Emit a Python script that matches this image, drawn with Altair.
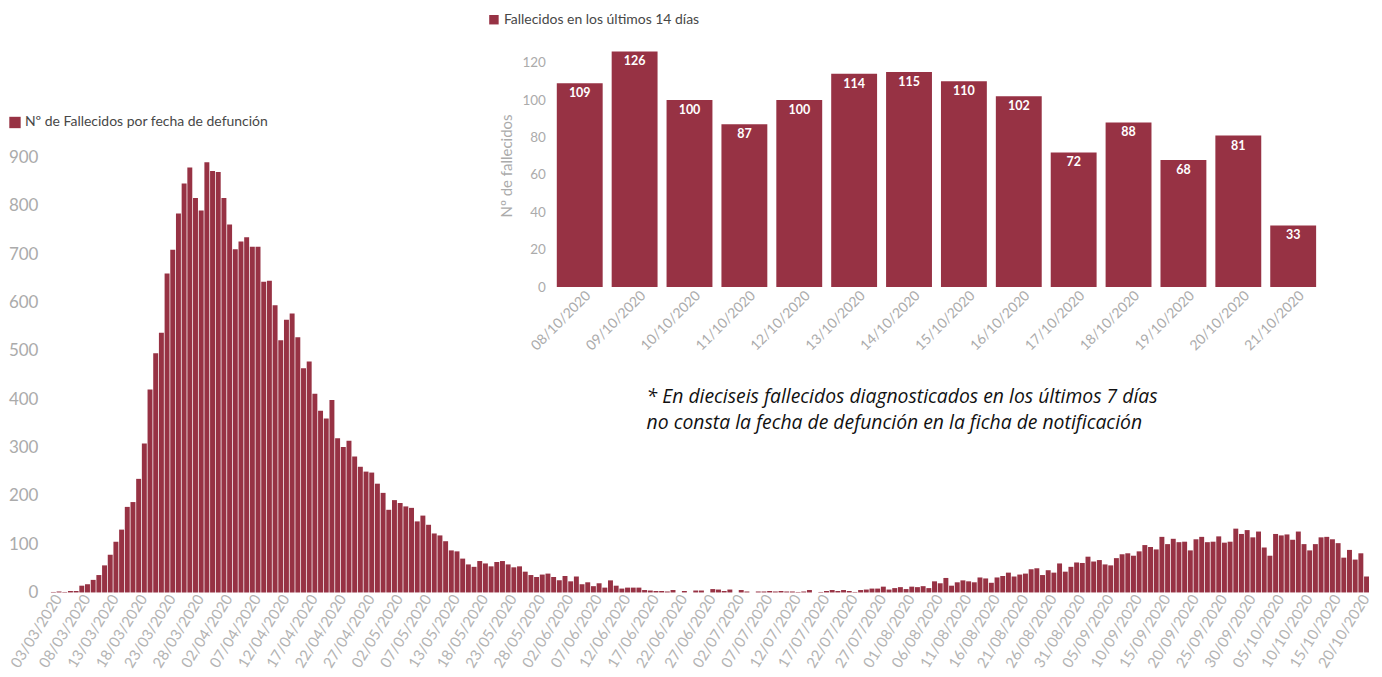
import altair as alt
import pandas as pd

# ---------------- data ----------------
all_days = pd.date_range("2020-03-03", "2020-10-21", freq="D").strftime("%d/%m/%Y").tolist()
missing_day = "10/05/2020"
dates = [d for d in all_days if d != missing_day]

deaths_until_07_10 = [
    1, 2, 1, 3, 3, 14, 17, 26, 36, 56,
    78, 105, 130, 177, 187, 235, 308, 420, 495, 537,
    660, 709, 784, 846, 879, 816, 790, 890, 872, 870,
    816, 761, 710, 726, 735, 715, 715, 643, 645, 594,
    522, 564, 577, 528, 464, 478, 411, 376, 360, 398,
    319, 301, 314, 281, 260, 250, 248, 225, 206, 171,
    191, 185, 178, 175, 147, 159, 140, 122, 118, 106,
    87, 85, 70, 58, 53, 65, 60, 54, 63, 65,
    58, 52, 54, 43, 36, 32, 37, 39, 32, 25,
    34, 23, 33, 17, 21, 13, 19, 10, 25, 14,
    8, 10, 10, 10, 5, 4, 3, 3, 2, 5,
    0, 3, 0, 4, 4, 0, 7, 6, 3, 6,
    0, 5, 2, 0, 2, 2, 3, 2, 3, 2,
    2, 1, 2, 5, 0, 1, 3, 5, 3, 5,
    3, 1, 5, 6, 8, 8, 12, 6, 9, 11,
    7, 12, 11, 13, 9, 23, 19, 30, 14, 21,
    25, 23, 21, 31, 29, 20, 31, 34, 41, 33,
    37, 39, 48, 50, 36, 46, 41, 60, 43, 53,
    62, 61, 74, 64, 67, 58, 56, 71, 79, 81,
    76, 85, 98, 94, 89, 115, 100, 111, 104, 105,
    87, 110, 115, 104, 105, 116, 103, 105, 132, 121,
    129, 114, 126, 93, 76, 121, 118, 120,
]

last14_dates = [
    "08/10/2020", "09/10/2020", "10/10/2020", "11/10/2020", "12/10/2020",
    "13/10/2020", "14/10/2020", "15/10/2020", "16/10/2020", "17/10/2020",
    "18/10/2020", "19/10/2020", "20/10/2020", "21/10/2020",
]
last14_values = [109, 126, 100, 87, 100, 114, 115, 110, 102, 72, 88, 68, 81, 33]

main_ticks_y = [0, 100, 200, 300, 400, 500, 600, 700, 800, 900]
inset_ticks_y = [0, 20, 40, 60, 80, 100, 120]

main_series = "Nº de Fallecidos por fecha de defunción"
inset_series = "Fallecidos en los últimos 14 días"
note_lines = [
    "* En dieciseis fallecidos diagnosticados en los últimos 7 días",
    "no consta la fecha de defunción en la ficha de notificación",
]

deaths = deaths_until_07_10 + last14_values

main_df = pd.DataFrame({"fecha": dates, "fallecidos": deaths, "serie": main_series})
inset_df = pd.DataFrame({"fecha": last14_dates, "fallecidos": last14_values, "serie": inset_series})

# ---------------- layout ----------------
W = 1321
H = 585
MAROON = "#973244"
GRAY = "#ababab"
FONT = "Lato"

main_x_range = [0, W]
main_y_range = [H, H - 436]
inset_x_range = [502.6, 1272.4]
inset_y_range = [279, 35.25]

main_bars = alt.Chart(main_df).mark_bar(opacity=1).encode(
    x=alt.X(
        "fecha:N",
        sort=None,
        scale=alt.Scale(range=main_x_range, paddingInner=0.13, paddingOuter=0),
        axis=alt.Axis(
            orient="bottom", title=None, values=dates[::5], labelAngle=-58,
            labelAlign="right", labelBaseline="middle", labelPadding=3, labelOffset=5,
            labelFontSize=15, labelColor="#b3b3b3", labelOverlap=False,
            ticks=False, domain=False, grid=False,
        ),
    ),
    y=alt.Y(
        "fallecidos:Q",
        scale=alt.Scale(domain=[0, 900], range=main_y_range, nice=False),
        axis=alt.Axis(
            orient="left", title=None, values=main_ticks_y, labelPadding=13,
            labelFontSize=17, labelColor=GRAY, ticks=False, domain=False, grid=False,
        ),
    ),
    color=alt.Color(
        "serie:N",
        scale=alt.Scale(range=[MAROON]),
        legend=alt.Legend(
            orient="none", legendX=-43, legendY=107, title=None,
            symbolType="square", symbolSize=130, symbolStrokeWidth=0,
            labelFontSize=14, labelColor="#474747", labelFont=FONT, labelOffset=3,
            labelLimit=0,
        ),
    ),
)

inset_x = alt.X(
    "fecha:N",
    sort=None,
    scale=alt.Scale(range=inset_x_range, paddingInner=0.164, paddingOuter=0.08),
    axis=alt.Axis(
        orient="bottom", offset=-(H - inset_y_range[0]), title=None, labelAngle=-45,
        labelAlign="right", labelBaseline="middle", labelPadding=6, labelOffset=9,
        labelFontSize=14, labelColor=GRAY, labelOverlap=False,
        ticks=False, domain=False, grid=False,
    ),
)
inset_y = alt.Y(
    "fallecidos:Q",
    scale=alt.Scale(domain=[0, 130], range=inset_y_range, nice=False),
    axis=alt.Axis(
        orient="left", offset=-inset_x_range[0], title="Nº de fallecidos",
        values=inset_ticks_y, labelPadding=7, labelFontSize=13.5, labelColor=GRAY,
        titleColor=GRAY, titleFontSize=15, titleFontWeight="normal", titleFont=FONT,
        titlePadding=8, ticks=False, domain=False, grid=False,
    ),
)

inset_bars = alt.Chart(inset_df).mark_bar().encode(
    x=inset_x,
    y=inset_y,
    color=alt.Color(
        "serie:N",
        scale=alt.Scale(range=[MAROON]),
        legend=alt.Legend(
            orient="none", legendX=437, legendY=4, title=None,
            symbolType="square", symbolSize=90, symbolStrokeWidth=0,
            labelFontSize=14, labelColor="#474747", labelFont=FONT, labelOffset=3,
            labelLimit=0,
        ),
    ),
)

inset_text = alt.Chart(inset_df).mark_text(
    color="white", fontSize=12.5, fontWeight="bold", baseline="middle", dy=10, font=FONT
).encode(
    x=alt.X("fecha:N", sort=None),
    y=alt.Y("fallecidos:Q"),
    text=alt.Text("fallecidos:Q"),
)

inset = alt.layer(inset_bars, inset_text)

note = alt.Chart(pd.DataFrame({"k": [0]})).mark_text(
    text=note_lines, align="left", baseline="top", fontSize=19.4, fontStyle="italic",
    font="Open Sans", color="#111111", lineHeight=26,
).encode(x=alt.value(597), y=alt.value(380))

chart = alt.layer(main_bars, inset, note).resolve_scale(
    x="independent", y="independent", color="independent"
).properties(
    width=W, height=H,
    autosize=alt.AutoSizeParams(type="none"),
    padding={"left": 43, "top": 0, "right": 5, "bottom": 84},
).configure(font=FONT).configure_view(strokeWidth=0)

chart.save("out.html", embed_options={"renderer": "svg", "actions": False})
